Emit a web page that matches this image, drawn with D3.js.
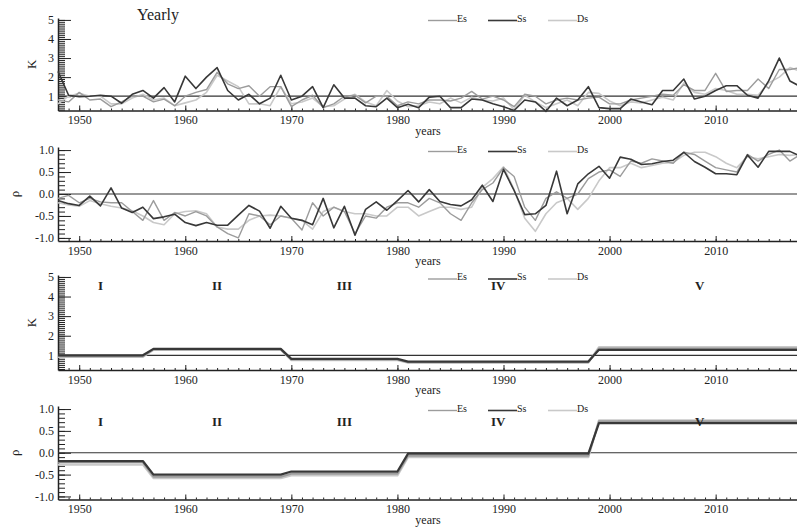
<!DOCTYPE html>
<html lang="en">
    <head>
        <meta charset="utf-8">
        <title>Yearly K and rho</title>
        <script type="text/javascript" src="https://d3js.org/d3.v7.min.js"></script>
        <style>
            body { margin: 0; background: #fff; }
            svg text { font-family: "Liberation Serif", "Times New Roman", serif; fill: #222; }
            .axis path, .axis line { stroke: #222; }
            .ref { stroke: #333; stroke-width: 1.2px; }
        </style>
    </head>
    <body>
        <svg width="797" height="529"></svg>

        <script type="text/javascript">

            // categories
            var years = [
              1948, 1949, 1950, 1951, 1952, 1953, 1954, 1955, 1956, 1957,
              1958, 1959, 1960, 1961, 1962, 1963, 1964, 1965, 1966, 1967,
              1968, 1969, 1970, 1971, 1972, 1973, 1974, 1975, 1976, 1977,
              1978, 1979, 1980, 1981, 1982, 1983, 1984, 1985, 1986, 1987,
              1988, 1989, 1990, 1991, 1992, 1993, 1994, 1995, 1996, 1997,
              1998, 1999, 2000, 2001, 2002, 2003, 2004, 2005, 2006, 2007,
              2008, 2009, 2010, 2011, 2012, 2013, 2014, 2015, 2016, 2017,
              2018];
            var seriesNames = ["Es", "Ss", "Ds"];

            // yearly K
            var kEs = [
              0.8, 0.7, 1.2, 0.8, 0.85, 0.45, 0.7, 1.0, 1.0, 0.7,
              0.85, 0.5, 1.0, 1.2, 1.35, 2.25, 1.65, 1.4, 1.55, 1.0,
              1.5, 1.5, 0.45, 0.8, 1.05, 0.4, 0.6, 1.0, 1.05, 0.65,
              1.0, 1.0, 0.5, 0.7, 0.6, 0.8, 0.8, 0.75, 0.9, 1.25,
              0.85, 1.0, 0.8, 0.45, 1.1, 1.0, 0.6, 0.8, 0.9, 0.8,
              0.9, 0.95, 0.6, 0.6, 0.8, 0.9, 1.0, 1.1, 1.05, 1.6,
              1.3, 1.3, 2.2, 1.25, 1.3, 1.3, 1.9, 1.4, 2.4, 2.4,
              2.5];
            var kSs = [
              2.3, 1.05, 0.97, 1.0, 1.05, 1.0, 0.63, 1.1, 1.3, 0.9,
              1.45, 0.7, 2.05, 1.4, 2.0, 2.5, 1.3, 0.8, 1.1, 0.6,
              0.9, 2.1, 0.8, 1.0, 1.5, 0.4, 1.6, 0.9, 0.9, 0.5,
              0.45, 0.9, 0.4, 0.58, 0.4, 0.95, 1.0, 0.4, 0.4, 0.85,
              0.8, 0.6, 0.45, 0.25, 0.8, 0.7, 0.2, 0.9, 0.5, 0.8,
              1.5, 0.4, 0.35, 0.35, 0.85, 0.7, 0.55, 1.3, 1.3, 1.9,
              0.85, 1.0, 1.3, 1.55, 1.55, 1.05, 0.9, 1.8, 3.0, 1.8,
              1.5];
            var kDs = [
              0.6, 1.0, 1.15, 1.0, 1.0, 0.6, 0.6, 0.9, 1.1, 0.8,
              0.9, 0.5, 0.65, 0.8, 1.2, 2.1, 1.8, 1.5, 0.6, 0.6,
              0.5, 1.5, 0.6, 0.7, 0.9, 0.45, 0.5, 0.85, 1.1, 0.7,
              0.5, 1.3, 0.75, 0.45, 0.5, 0.7, 0.6, 0.9, 0.65, 0.95,
              0.8, 0.75, 0.9, 0.3, 1.05, 0.7, 0.4, 0.6, 0.8, 0.5,
              1.2, 1.15, 0.75, 0.5, 0.7, 0.65, 0.8, 0.95, 0.8, 1.7,
              1.2, 1.1, 1.4, 1.3, 1.1, 1.1, 1.05, 1.7, 2.0, 2.5,
              2.3];

            // yearly rho
            var rEs = [
              -0.1, -0.03, -0.2, -0.1, -0.18, -0.2, -0.2, -0.4, -0.6, -0.15,
              -0.6, -0.42, -0.5, -0.4, -0.5, -0.75, -0.9, -1.0, -0.45, -0.5,
              -0.7, -0.5, -0.55, -0.82, -0.2, -0.5, -0.3, -0.4, -0.9, -0.5,
              -0.55, -0.3, -0.2, -0.2, -0.3, -0.1, -0.2, -0.45, -0.6, -0.2,
              0.1, 0.25, 0.6, 0.4, -0.3, -0.6, -0.1, 0.05, -0.1, 0.0,
              0.35, 0.5, 0.55, 0.4, 0.75, 0.7, 0.8, 0.75, 0.7, 0.95,
              0.9, 0.75, 0.6, 0.55, 0.5, 0.9, 0.75, 0.9, 1.0, 0.75,
              0.9];
            var rSs = [
              -0.15, -0.22, -0.26, -0.05, -0.27, 0.14, -0.32, -0.42, -0.3, -0.56,
              -0.52, -0.46, -0.65, -0.72, -0.65, -0.71, -0.71, -0.48, -0.26, -0.39,
              -0.78, -0.28, -0.55, -0.6, -0.7, -0.1, -0.77, -0.28, -0.94, -0.35,
              -0.18, -0.37, -0.15, 0.08, -0.18, 0.1, -0.17, -0.24, -0.27, -0.13,
              0.2, -0.17, 0.56, 0.08, -0.47, -0.45, -0.26, 0.52, -0.45, 0.23,
              0.46, 0.63, 0.36, 0.84, 0.79, 0.67, 0.69, 0.74, 0.77, 0.95,
              0.74, 0.61, 0.46, 0.46, 0.44, 0.89, 0.61, 0.97, 0.97, 0.97,
              0.86];
            var rDs = [
              -0.2, -0.25, -0.28, -0.15, -0.22, -0.28, -0.32, -0.38, -0.5, -0.65,
              -0.7, -0.45, -0.4, -0.38, -0.45, -0.75, -0.8, -0.8, -0.6, -0.5,
              -0.48, -0.5, -0.55, -0.6, -0.8, -0.4, -0.3, -0.4, -0.45, -0.45,
              -0.5, -0.5, -0.3, -0.3, -0.5, -0.4, -0.3, -0.3, -0.35, -0.3,
              0.15, 0.35, 0.62, 0.1, -0.55, -0.85, -0.45, -0.2, -0.1, -0.35,
              -0.1, 0.3, 0.6, 0.6, 0.7, 0.6, 0.65, 0.7, 0.72, 0.88,
              0.95, 0.95, 0.85, 0.7, 0.6, 0.85, 0.8, 0.85, 0.9, 0.88,
              0.9];

            // periods I..V and their mean values
            var periodNames = ["I", "II", "III", "IV", "V"];
            var periodStart = [1948, 1957, 1970, 1981, 1999];
            var periodEnd   = [1956, 1969, 1980, 1998, 2018];
            var kStepEs = [0.95, 1.30, 0.78, 0.65, 1.35];
            var kStepSs = [1.00, 1.33, 0.82, 0.68, 1.28];
            var kStepDs = [0.92, 1.28, 0.75, 0.63, 1.42];
            var rStepEs = [-0.22, -0.55, -0.48, -0.07, 0.72];
            var rStepSs = [-0.19, -0.50, -0.43, -0.02, 0.68];
            var rStepDs = [-0.27, -0.58, -0.52, -0.10, 0.74];

            var kTicks = [1, 2, 3, 4, 5];
            var rTicks = [-1.0, -0.5, 0.0, 0.5, 1.0];
            var xTicks = [1950, 1960, 1970, 1980, 1990, 2000, 2010];

            // expand period means to one value per year
            function stepSeries(vals) {
              return years.map(function(yr) {
                var i = periodStart.findIndex(function(s, j) { return yr >= s && yr <= periodEnd[j]; });
                return vals[i];
              });
            }

            var svg = d3.select("svg");
            var colors = { Es: "#9c9c9c", Ss: "#383838", Ds: "#c9c9c9" };
            var widths = { Es: 1.4, Ss: 1.6, Ds: 1.6 };

            var x = d3.scaleLinear().domain([1948, 2018]).range([58, 800.5]);

            var panels = [
              { top: 18,  bottom: 110.5, kind: "K", vals: { Es: kEs, Ss: kSs, Ds: kDs }, legendY: 20.5, title: "Yearly" },
              { top: 147, bottom: 241,   kind: "r", vals: { Es: rEs, Ss: rSs, Ds: rDs }, legendY: 151.5 },
              { top: 275, bottom: 370,   kind: "K", vals: { Es: stepSeries(kStepEs), Ss: stepSeries(kStepSs), Ds: stepSeries(kStepDs) }, legendY: 279, romanY: 290, step: true },
              { top: 406, bottom: 499.5, kind: "r", vals: { Es: stepSeries(rStepEs), Ss: stepSeries(rStepSs), Ds: stepSeries(rStepDs) }, legendY: 410.5, romanY: 426, step: true }
            ];

            panels.forEach(function(p) {
              var g = svg.append("g");
              var isK = p.kind === "K";
              var y = d3.scaleLinear()
                .domain(isK ? [0.25, 5.1] : [-1.07, 1.07])
                .range([p.bottom, p.top]);

              // minor y ticks (dense band)
              var minor = isK ? d3.range(0.3, 5.1, 0.1) : d3.range(-1.0, 1.01, 0.1);
              g.append("g")
                .attr("class", "axis")
                .attr("transform", "translate(" + x.range()[0] + ",0)")
                .call(d3.axisLeft(y).tickValues(minor).tickSize(-7).tickSizeOuter(0).tickFormat(""))
                .call(function(a) { a.select(".domain").remove(); });

              // major y ticks
              g.append("g")
                .attr("class", "axis")
                .attr("transform", "translate(" + x.range()[0] + ",0)")
                .call(d3.axisLeft(y)
                  .tickValues(isK ? kTicks : rTicks)
                  .tickSize(-13).tickSizeOuter(0).tickPadding(4)
                  .tickFormat(function(d) { return isK ? d : d.toFixed(1); }))
                .call(function(a) {
                  a.select(".domain").attr("stroke-width", 1.5);
                  a.selectAll("text").attr("font-size", 12);
                });

              // x axis
              g.append("g")
                .attr("class", "axis")
                .attr("transform", "translate(0," + p.bottom + ")")
                .call(d3.axisBottom(x).tickValues(years).tickSize(-2).tickSizeOuter(0).tickFormat(""))
                .call(function(a) { a.select(".domain").attr("stroke-width", 1.6); });
              g.append("g")
                .attr("class", "axis")
                .attr("transform", "translate(0," + p.bottom + ")")
                .call(d3.axisBottom(x).tickValues(xTicks).tickSize(-5).tickSizeOuter(0).tickPadding(5)
                  .tickFormat(d3.format("d")))
                .call(function(a) {
                  a.select(".domain").remove();
                  a.selectAll("text").attr("font-size", 12);
                });

              g.append("text")
                .attr("x", 428).attr("y", p.bottom + 24)
                .attr("text-anchor", "middle")
                .attr("font-size", 12)
                .text("years");

              // y label
              g.append("text")
                .attr("transform", "translate(" + (isK ? 36 : 19) + "," + ((p.top + p.bottom) / 2) + ") rotate(-90)")
                .attr("text-anchor", "middle")
                .attr("font-size", 13)
                .text(isK ? "K" : "\u03c1");

              // reference line
              g.append("line")
                .attr("class", "ref")
                .attr("x1", x.range()[0]).attr("x2", x.range()[1])
                .attr("y1", y(isK ? 1 : 0)).attr("y2", y(isK ? 1 : 0));

              var line = d3.line()
                .x(function(d, i) { return x(years[i]); })
                .y(function(d) { return y(d); });

              ["Ds", "Es", "Ss"].forEach(function(name) {
                g.append("path")
                  .datum(p.vals[name])
                  .attr("fill", "none")
                  .attr("stroke", colors[name])
                  .attr("stroke-width", p.step ? widths[name] + 0.6 : widths[name])
                  .attr("stroke-linejoin", "round")
                  .attr("d", line);
              });

              // legend
              var leg = g.selectAll(".leg")
                .data(seriesNames)
                .enter().append("g")
                .attr("transform", function(d, i) { return "translate(" + (428 + i * 60) + "," + p.legendY + ")"; });
              leg.append("line")
                .attr("x1", 0).attr("x2", 29)
                .attr("stroke", function(d) { return colors[d]; })
                .attr("stroke-width", function(d) { return widths[d]; });
              leg.append("text")
                .attr("x", 29).attr("y", 1)
                .attr("font-size", 10)
                .text(function(d) { return d; });

              if (p.title) {
                g.append("text")
                  .attr("x", 137).attr("y", 20)
                  .attr("font-size", 16)
                  .text(p.title);
              }

              if (p.romanY) {
                g.selectAll(".roman")
                  .data(periodNames)
                  .enter().append("text")
                  .attr("x", function(d, i) { return x((periodStart[i] + periodEnd[i]) / 2); })
                  .attr("y", p.romanY)
                  .attr("text-anchor", "middle")
                  .attr("font-size", 13)
                  .attr("font-weight", "bold")
                  .text(function(d) { return d; });
              }
            });

        </script>
    </body>
</html>
